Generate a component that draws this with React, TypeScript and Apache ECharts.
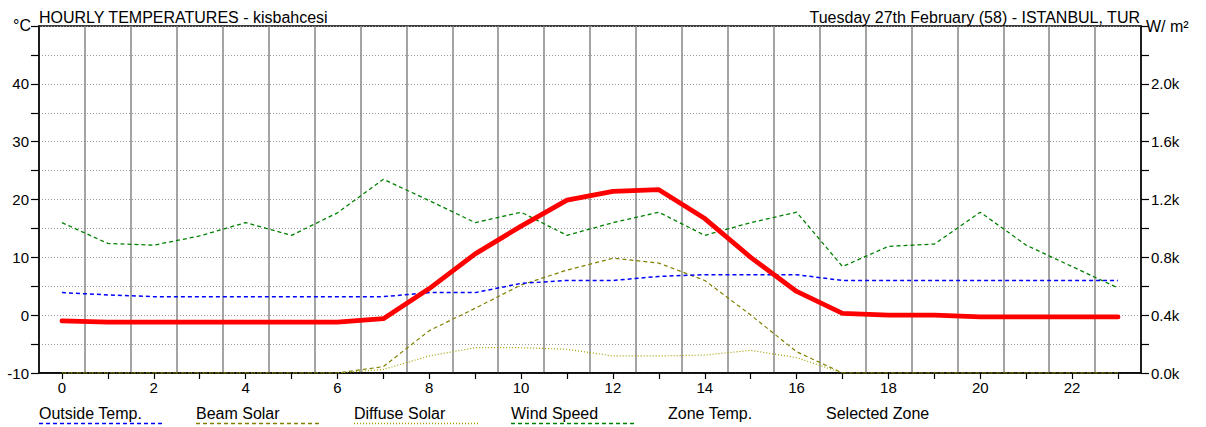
import React, { useEffect, useRef } from "react";
import * as echarts from "echarts";

const hours = ["0","1","2","3","4","5","6","7","8","9","10","11","12","13","14","15","16","17","18","19","20","21","22","23"];
const outsideTemp = [3.9,3.5,3.2,3.2,3.2,3.2,3.2,3.2,3.9,3.9,5.5,6.0,6.0,6.7,7.0,7.0,7.0,6.0,6.0,6.0,6.0,6.0,6.0,6.0];
const zoneTemp = [-1.0,-1.2,-1.2,-1.2,-1.2,-1.2,-1.2,-0.6,4.6,10.6,15.4,19.9,21.4,21.7,16.7,10.0,4.1,0.3,0.0,0.0,-0.3,-0.3,-0.3,-0.3];
const windSpeed = [16.0,12.4,12.1,13.7,16.0,13.8,17.7,23.5,19.8,16.0,17.8,13.8,16.0,17.8,13.8,16.0,17.8,8.4,11.9,12.3,17.8,12.1,8.4,4.7];
const beamSolar = [0,0,0,0,0,0,0,44,293,448,609,712,794,760,640,401,147,0,0,0,0,0,0,0];
const diffuseSolar = [0,0,0,0,0,0,0,25,118,175,175,164,118,118,124,157,106,0,0,0,0,0,0,0];

const titleLeft = "HOURLY TEMPERATURES - kisbahcesi";
const titleRight = "Tuesday 27th February (58) - ISTANBUL, TUR";
const legendItems = [
  { name: "Outside Temp.", color: "#0000ff", dash: [4, 3] as number[] | null },
  { name: "Beam Solar", color: "#808000", dash: [4, 3] },
  { name: "Diffuse Solar", color: "#a0a000", dash: [1, 2] },
  { name: "Wind Speed", color: "#008000", dash: [4, 3] },
  { name: "Zone Temp.", color: "", dash: null },
  { name: "Selected Zone", color: "", dash: null },
];

const FONT = "Liberation Sans, Arial, Helvetica, sans-serif";

export default function App() {
  const ref = useRef<HTMLDivElement>(null);
  useEffect(() => {
    if (!ref.current) return;
    const chart = echarts.init(ref.current, undefined, { renderer: "svg" });
    const legendX = [39, 196, 354, 511, 668, 826];
    const graphics: any[] = [
      { type: "text", x: 39, y: 17, style: { text: titleLeft, font: `16px ${FONT}`, fill: "#000", verticalAlign: "middle", align: "left" } },
      { type: "text", x: 1140, y: 17, style: { text: titleRight, font: `16px ${FONT}`, fill: "#000", verticalAlign: "middle", align: "right" } },
      { type: "text", x: 31, y: 25, style: { text: "°C", font: `16px ${FONT}`, fill: "#000", verticalAlign: "middle", align: "right" } },
      { type: "text", x: 1146, y: 26, style: { text: "W/ m²", font: `16px ${FONT}`, fill: "#000", verticalAlign: "middle", align: "left" } },
    ];
    legendItems.forEach((it, i) => {
      graphics.push({ type: "text", x: legendX[i], y: 413, style: { text: it.name, font: `16px ${FONT}`, fill: "#000", verticalAlign: "middle", align: "left" } });
      if (it.dash) {
        graphics.push({ type: "line", shape: { x1: legendX[i], y1: 423.5, x2: legendX[i] + 124, y2: 423.5 }, style: { stroke: it.color, lineWidth: 1.3, lineDash: it.dash } });
      }
    });
    chart.setOption({
      animation: false,
      textStyle: { fontFamily: FONT },
      grid: { left: 39, right: 65, top: 26, bottom: 54, show: true, borderColor: "#000", borderWidth: 1.5, backgroundColor: "transparent" },
      xAxis: {
        type: "category",
        data: hours,
        boundaryGap: true,
        axisLine: { show: true, onZero: false, lineStyle: { color: "#000", width: 1.5 } },
        axisTick: { show: true, alignWithLabel: true, interval: 0, length: 6, lineStyle: { color: "#000", width: 1.2 } },
        axisLabel: { interval: 1, fontSize: 15, color: "#000", margin: 7, fontFamily: FONT },
        splitLine: { show: true, interval: 0, lineStyle: { color: "#868686", width: 1.5 } },
      },
      yAxis: [
        {
          type: "value",
          min: -10,
          max: 50,
          interval: 5,
          position: "left",
          axisLine: { show: true, lineStyle: { color: "#000", width: 1.5 } },
          axisTick: { show: true, length: 8, lineStyle: { color: "#000", width: 1.2 } },
          axisLabel: {
            fontSize: 15, color: "#000", margin: 10, fontFamily: FONT,
            formatter: (v: number) => (v % 10 === 0 && v < 50 ? String(v) : ""),
          },
          splitLine: { show: true, lineStyle: { color: "#999", type: [1, 2], width: 1 } },
        },
        {
          type: "value",
          min: 0,
          max: 2400,
          interval: 200,
          position: "right",
          axisLine: { show: true, lineStyle: { color: "#000", width: 1.5 } },
          axisTick: { show: true, length: 8, lineStyle: { color: "#000", width: 1.2 } },
          axisLabel: {
            fontSize: 15, color: "#000", margin: 10, fontFamily: FONT,
            formatter: (v: number) => (v % 400 === 0 && v < 2400 ? (v / 1000).toFixed(1) + "k" : ""),
          },
          splitLine: { show: false },
        },
      ],
      series: [
        { name: "Beam Solar", type: "line", yAxisIndex: 1, data: beamSolar, symbol: "none", lineStyle: { color: "#808000", width: 1.2, type: [4, 3] }, z: 3 },
        { name: "Diffuse Solar", type: "line", yAxisIndex: 1, data: diffuseSolar, symbol: "none", lineStyle: { color: "#a0a000", width: 1.2, type: [1, 2] }, z: 3 },
        { name: "Wind Speed", type: "line", yAxisIndex: 0, data: windSpeed, symbol: "none", lineStyle: { color: "#008000", width: 1.3, type: [4, 3] }, z: 4 },
        { name: "Outside Temp.", type: "line", yAxisIndex: 0, data: outsideTemp, symbol: "none", lineStyle: { color: "#0000ff", width: 1.5, type: [4, 3] }, z: 5 },
        { name: "Zone Temp.", type: "line", yAxisIndex: 0, data: zoneTemp, symbol: "none", lineStyle: { color: "#ff0000", width: 4.8, cap: "round", join: "round" }, z: 6 },
      ],
      graphic: graphics,
    });
    return () => chart.dispose();
  }, []);
  return <div ref={ref} style={{ position: "absolute", left: 0, top: 0, width: 1206, height: 427 }} />;
}
